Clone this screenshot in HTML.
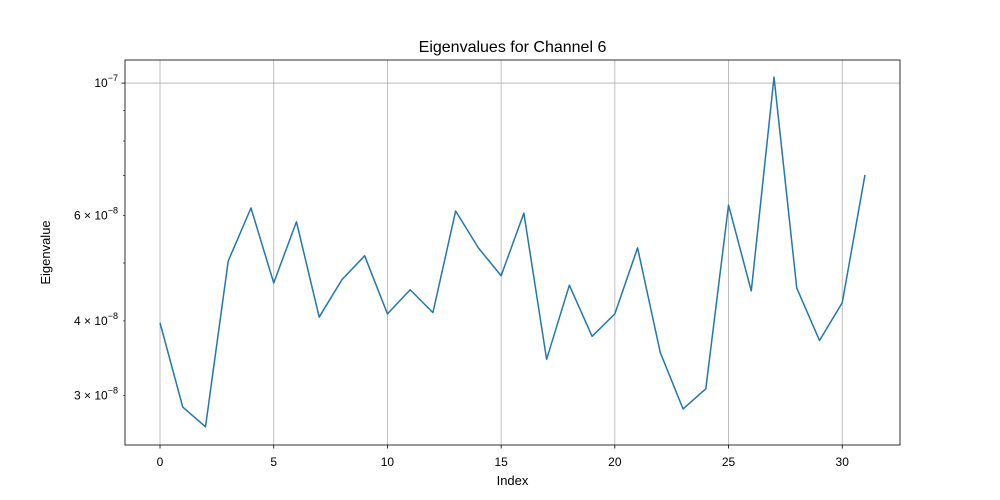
<!DOCTYPE html>
<html><head><meta charset="utf-8"><style>
html,body{margin:0;padding:0;background:#fff;}
svg{display:block;font-family:"Liberation Sans","DejaVu Sans",sans-serif;}
</style></head><body>
<svg id="chart" width="1000" height="500" viewBox="0 0 1000 500"></svg>
<script>
const indices = [0,1,2,3,4,5,6,7,8,9,10,11,12,13,14,15,16,17,18,19,20,21,22,23,24,25,26,27,28,29,30,31];
const eigenvalues = [3.97e-8,2.87e-8,2.66e-8,5.04e-8,6.18e-8,4.63e-8,5.86e-8,4.06e-8,4.69e-8,5.14e-8,4.11e-8,4.51e-8,4.13e-8,6.11e-8,5.30e-8,4.76e-8,6.06e-8,3.45e-8,4.59e-8,3.77e-8,4.11e-8,5.30e-8,3.54e-8,2.85e-8,3.08e-8,6.25e-8,4.49e-8,1.023e-7,4.54e-8,3.71e-8,4.29e-8,7.02e-8];
const xTicks = [0,5,10,15,20,25,30];
const yMajorTicks = [1e-7];
const yMinorTicks = [3e-8,4e-8,5e-8,6e-8,7e-8,8e-8,9e-8];
const yMinorLabels = {"3e-8":"3","4e-8":"4","6e-8":"6"};

const svg = document.getElementById('chart');
const NS = 'http://www.w3.org/2000/svg';
const L=125,R=900,T=60,B=445;
const xMin=-1.54,xMax=32.54;
const yLo=Math.log10(2.48e-8), yHi=Math.log10(1.093e-7);
const xs = v => L+(v-xMin)/(xMax-xMin)*(R-L);
const ys = v => B-(Math.log10(v)-yLo)/(yHi-yLo)*(B-T);
function mk(tag, attrs, parent){const e=document.createElementNS(NS,tag);for(const k in attrs)e.setAttribute(k,attrs[k]);(parent||svg).appendChild(e);return e;}

xTicks.forEach(t=>{
  const g=mk('line',{x1:xs(t),x2:xs(t),y1:T,y2:B,stroke:'#b0b0b0','stroke-width':0.8});
  
  
});
yMajorTicks.forEach(t=>{
  const g=mk('line',{x1:L,x2:R,y1:ys(t),y2:ys(t),stroke:'#b0b0b0','stroke-width':0.8});
  
  
});

const pts=indices.map((x,i)=>xs(x).toFixed(2)+','+ys(eigenvalues[i]).toFixed(2)).join(' ');
const line=mk('polyline',{points:pts,fill:'none',stroke:'#1f77b4','stroke-width':1.5,'stroke-linejoin':'round'});



const fr=mk('rect',{x:L,y:T,width:R-L,height:B-T,fill:'none',stroke:'#000','stroke-width':0.8});



xTicks.forEach(t=>{
  mk('line',{x1:xs(t),x2:xs(t),y1:B,y2:B+3.5,stroke:'#000','stroke-width':0.8});
  const tx=mk('text',{x:xs(t),y:B+21,'font-size':12,'text-anchor':'middle',fill:'#000'});
  tx.textContent=t;
  
  
});
yMajorTicks.forEach(t=>{
  mk('line',{x1:L-3.5,x2:L,y1:ys(t),y2:ys(t),stroke:'#000','stroke-width':0.8});
  const tx=mk('text',{x:L-7,y:ys(t)+4,'font-size':12,'text-anchor':'end',fill:'#000'});
  tx.innerHTML='10<tspan dy="-6" font-size="9">−7</tspan>';
  
  
});
yMinorTicks.forEach(t=>{
  mk('line',{x1:L-2,x2:L,y1:ys(t),y2:ys(t),stroke:'#000','stroke-width':0.6});
  const lab=yMinorLabels[String(t)];
  if(lab){
    const tx=mk('text',{x:L-7,y:ys(t)+4,'font-size':12,'text-anchor':'end',fill:'#000'});
    tx.innerHTML=lab+' × 10<tspan dy="-6" font-size="9">−8</tspan>';
    
    
  }
});

const title=mk('text',{x:(L+R)/2,y:52,'font-size':16,'text-anchor':'middle',fill:'#000'});
title.textContent='Eigenvalues for Channel 6';


const xl=mk('text',{x:(L+R)/2,y:485,'font-size':13,'text-anchor':'middle',fill:'#000'});
xl.textContent='Index';


const yl=mk('text',{x:50,y:(T+B)/2,'font-size':13,'text-anchor':'middle',fill:'#000',transform:'rotate(-90 50 '+((T+B)/2)+')'});
yl.textContent='Eigenvalue';


</script>
</body></html>
